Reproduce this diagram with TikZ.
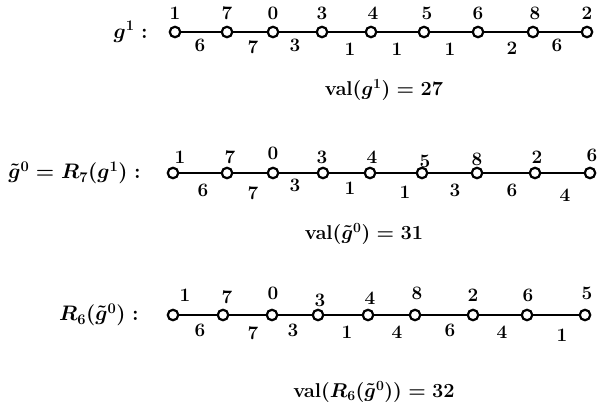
\RequirePackage{fix-cm}
\documentclass[tikz,border=0pt]{standalone}
\usepackage{amsmath,amssymb}

\begin{document}
\begin{tikzpicture}[x=1pt,y=-1pt,
  every node/.style={font=\fontsize{19}{22}\selectfont\bfseries\boldmath,inner sep=0pt},
  rowlab/.style={anchor=east,font=\fontsize{21}{24}\selectfont\bfseries\boldmath},
  vallab/.style={font=\fontsize{20}{23}\selectfont\bfseries\boldmath},
  vtx/.style={circle,draw,line width=2.2pt,minimum size=10.5pt,fill=white},
  edge/.style={line width=2.2pt}]
\useasboundingbox (0,0) rectangle (597,403);
% g^1
\node[rowlab] (lab1) at (148,32) {$g^1:$};
\foreach \i/\x in {1/175,2/227,3/273,4/322,5/371,6/424,7/478,8/533,9/587}
  \node[vtx] (a\i) at (\x,32) {};
\foreach \i [count=\j from 2] in {1,...,8}
  \draw[edge] (a\i) -- (a\j);
\foreach \x/\y/\t [count=\k] in {175/13/1,227/13/7,273/13/0,322/13/3,373/13/4,427/13/5,478/13/6,535/13/8,587/13/2}
  \node (at\k) at (\x,\y) {\t};
\foreach \x/\y/\t [count=\k] in {200/45/6,253/47/7,295/45/3,350/49/1,397/49/1,450/49/1,512/48/2,557/45/6}
  \node (ab\k) at (\x,\y) {\t};
\node[vallab] (val1) at (384,90) {$\mathrm{val}(g^1) = 27$};
% tilde g^0
\node[rowlab] (lab2) at (141,173) {$\tilde g^0 = R_7(g^1):$};
\foreach \i/\x in {1/173,2/227,3/273,4/323,5/370,6/422,7/477,8/535,9/590}
  \node[vtx] (b\i) at (\x,173) {};
\foreach \i [count=\j from 2] in {1,...,8}
  \draw[edge] (b\i) -- (b\j);
\foreach \x/\y/\t [count=\k] in {180/157/1,230/157/7,273/153/0,322/157/3,372/157/4,425/161/5,477/159/8,537/157/2,592/155/6}
  \node (bt\k) at (\x,\y) {\t};
\foreach \x/\y/\t [count=\k] in {203/190/6,253/193/7,295/185/3,350/188/1,405/192/1,455/190/3,512/190/6,565/195/4}
  \node (bb\k) at (\x,\y) {\t};
\node[vallab] (val2) at (364,234) {$\mathrm{val}(\tilde g^0) = 31$};
% R_6(tilde g^0)
\node[rowlab] (lab3) at (139,315) {$R_6(\tilde g^0):$};
\foreach \i/\x in {1/173,2/223,3/272,4/318,5/368,6/415,7/473,8/527,9/585}
  \node[vtx] (c\i) at (\x,315) {};
\foreach \i [count=\j from 2] in {1,...,8}
  \draw[edge] (c\i) -- (c\j);
\foreach \x/\y/\t [count=\k] in {185/295/1,227/297/7,273/293/0,320/300/3,370/298/4,417/293/8,473/295/2,528/295/6,587/293/5}
  \node (ct\k) at (\x,\y) {\t};
\foreach \x/\y/\t [count=\k] in {200/330/6,253/333/7,293/330/3,347/332/1,397/332/4,450/330/6,502/332/4,562/335/1}
  \node (cb\k) at (\x,\y) {\t};
\node[vallab] (val3) at (374,392) {$\mathrm{val}(R_6(\tilde g^0)) = 32$};
\end{tikzpicture}
\end{document}
